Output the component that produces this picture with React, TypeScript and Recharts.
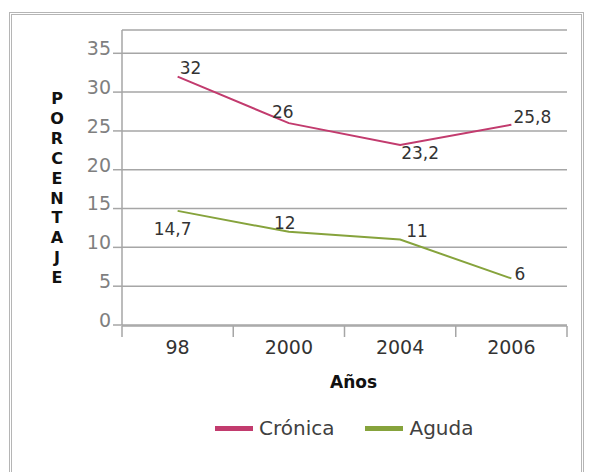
import {
  CartesianGrid,
  LabelList,
  Legend,
  Line,
  LineChart,
  XAxis,
  YAxis,
} from "recharts";

const categories = ["98", "2000", "2004", "2006"];
const cronica = [32, 26, 23.2, 25.8];
const aguda = [14.7, 12, 11, 6];
const seriesNames = ["Crónica", "Aguda"];
const yTicks = [0, 5, 10, 15, 20, 25, 30, 35];
const boundaryTicks = [0, 1, 2, 3, 4];

// slot = category index + 0.5, used by the boundary tick axis
const data = categories.map((year, i) => ({
  year,
  slot: i + 0.5,
  cronica: cronica[i],
  aguda: aguda[i],
}));

// label placement per point: [dx, dy, anchor]
const cronicaLabelPos: [number, number, string][] = [
  [2, -9, "start"],
  [-6, -11, "middle"],
  [1, 8, "start"],
  [2, -8, "start"],
];
const agudaLabelPos: [number, number, string][] = [
  [-5, 18, "middle"],
  [-4, -9, "middle"],
  [6, -9, "start"],
  [3, -5, "start"],
];

const FONT = "'DejaVu Sans', sans-serif";
const GRID = "#a6a6a6";
const TEXT = "#333333";

const fmt = (v: number) => String(v).replace(".", ",");

function makeLabel(pos: [number, number, string][]) {
  return (props: any) => {
    const { x, y, value, index } = props;
    const [dx, dy, anchor] = pos[index];
    return (
      <text
        x={x + dx}
        y={y + dy}
        dy="0.36em"
        textAnchor={anchor}
        fontFamily={FONT}
        fontSize={17}
        fill={TEXT}
      >
        {fmt(value)}
      </text>
    );
  };
}

const YTick = (props: any) => {
  const { x, y, payload } = props;
  return (
    <text
      x={x}
      y={y - 5}
      dy="0.36em"
      textAnchor="end"
      fontFamily={FONT}
      fontSize={19}
      fill="#7f7f7f"
    >
      {payload.value}
    </text>
  );
};

const XTick = (props: any) => {
  const { x, payload } = props;
  return (
    <text
      x={x}
      y={347}
      dy="0.36em"
      textAnchor="middle"
      fontFamily={FONT}
      fontSize={19}
      fill={TEXT}
    >
      {payload.value}
    </text>
  );
};

const yLetters = "PORCENTAJE".split("");

const YLabel = () => (
  <text fontFamily={FONT} fontSize={16} fontWeight="bold" fill="#111" textAnchor="middle">
    {yLetters.map((ch, i) => (
      <tspan key={i} x={57} y={104 + i * 19.9}>
        {ch}
      </tspan>
    ))}
  </text>
);

const XLabel = (props: any) => {
  const { viewBox } = props;
  return (
    <text
      x={viewBox.x + viewBox.width / 2 + 9}
      y={382}
      dy="0.36em"
      textAnchor="middle"
      fontFamily={FONT}
      fontSize={17}
      fontWeight="bold"
      fill="#111"
    >
      Años
    </text>
  );
};

const LegendContent = (props: any) => {
  const items = [...(props.payload || [])].sort(
    (a: any, b: any) => seriesNames.indexOf(a.value) - seriesNames.indexOf(b.value)
  );
  return (
    <div
      style={{
        display: "flex",
        alignItems: "center",
        fontFamily: FONT,
        fontSize: 20,
        color: "#404040",
        lineHeight: "24px",
      }}
    >
      {items.map((entry: any) => (
        <span
          key={entry.value}
          style={{ display: "inline-flex", alignItems: "center", marginRight: 31 }}
        >
          <span
            style={{
              display: "inline-block",
              width: 38,
              height: 5,
              background: entry.color,
              marginRight: 6,
            }}
          />
          {entry.value}
        </span>
      ))}
    </div>
  );
};

export default function App() {
  return (
    <div
      style={{
        position: "absolute",
        left: 0,
        top: 0,
        width: 591,
        height: 472,
        overflow: "hidden",
        background: "#fff",
      }}
    >
      <div
        style={{
          position: "absolute",
          left: 9,
          top: 12,
          width: 575,
          height: 480,
          border: "3px double #b5b5b5",
          boxSizing: "border-box",
        }}
      />
      <div style={{ position: "absolute", left: 0, top: 0 }}>
        <LineChart
          width={591}
          height={472}
          data={data}
          margin={{ top: 30, right: 24, bottom: 145, left: 0 }}
        >
          <CartesianGrid
            vertical={false}
            stroke={GRID}
            strokeWidth={1.5}
          />
          <XAxis
            xAxisId="m"
            type="number"
            dataKey="slot"
            domain={[0, 4]}
            ticks={boundaryTicks}
            allowDataOverflow
            height={1}
            tickFormatter={() => ""}
            tickSize={11}
            axisLine={{ stroke: GRID, strokeWidth: 1.5 }}
            tickLine={{ stroke: GRID, strokeWidth: 1.5 }}
          />
          <XAxis
            xAxisId="c"
            dataKey="year"
            scale="band"
            height={1}
            axisLine={false}
            tickLine={false}
            tick={<XTick />}
            label={<XLabel />}
          />
          <YAxis
            width={122}
            domain={[0, 38]}
            ticks={yTicks}
            allowDataOverflow
            tickSize={9}
            axisLine={{ stroke: GRID, strokeWidth: 1.5 }}
            tickLine={{ stroke: GRID, strokeWidth: 1.5 }}
            tick={<YTick />}
            label={<YLabel />}
          />
          <Legend
            verticalAlign="middle"
            align="center"
            content={<LegendContent />}
            wrapperStyle={{ top: 416, left: 215, width: 376 }}
          />
          <Line
            xAxisId="c"
            dataKey="cronica"
            name="Crónica"
            stroke="#c23b6e"
            strokeWidth={2}
            dot={false}
            isAnimationActive={false}
          >
            <LabelList dataKey="cronica" content={makeLabel(cronicaLabelPos)} />
          </Line>
          <Line
            xAxisId="c"
            dataKey="aguda"
            name="Aguda"
            stroke="#86a33c"
            strokeWidth={2}
            dot={false}
            isAnimationActive={false}
          >
            <LabelList dataKey="aguda" content={makeLabel(agudaLabelPos)} />
          </Line>
        </LineChart>
      </div>
    </div>
  );
}
